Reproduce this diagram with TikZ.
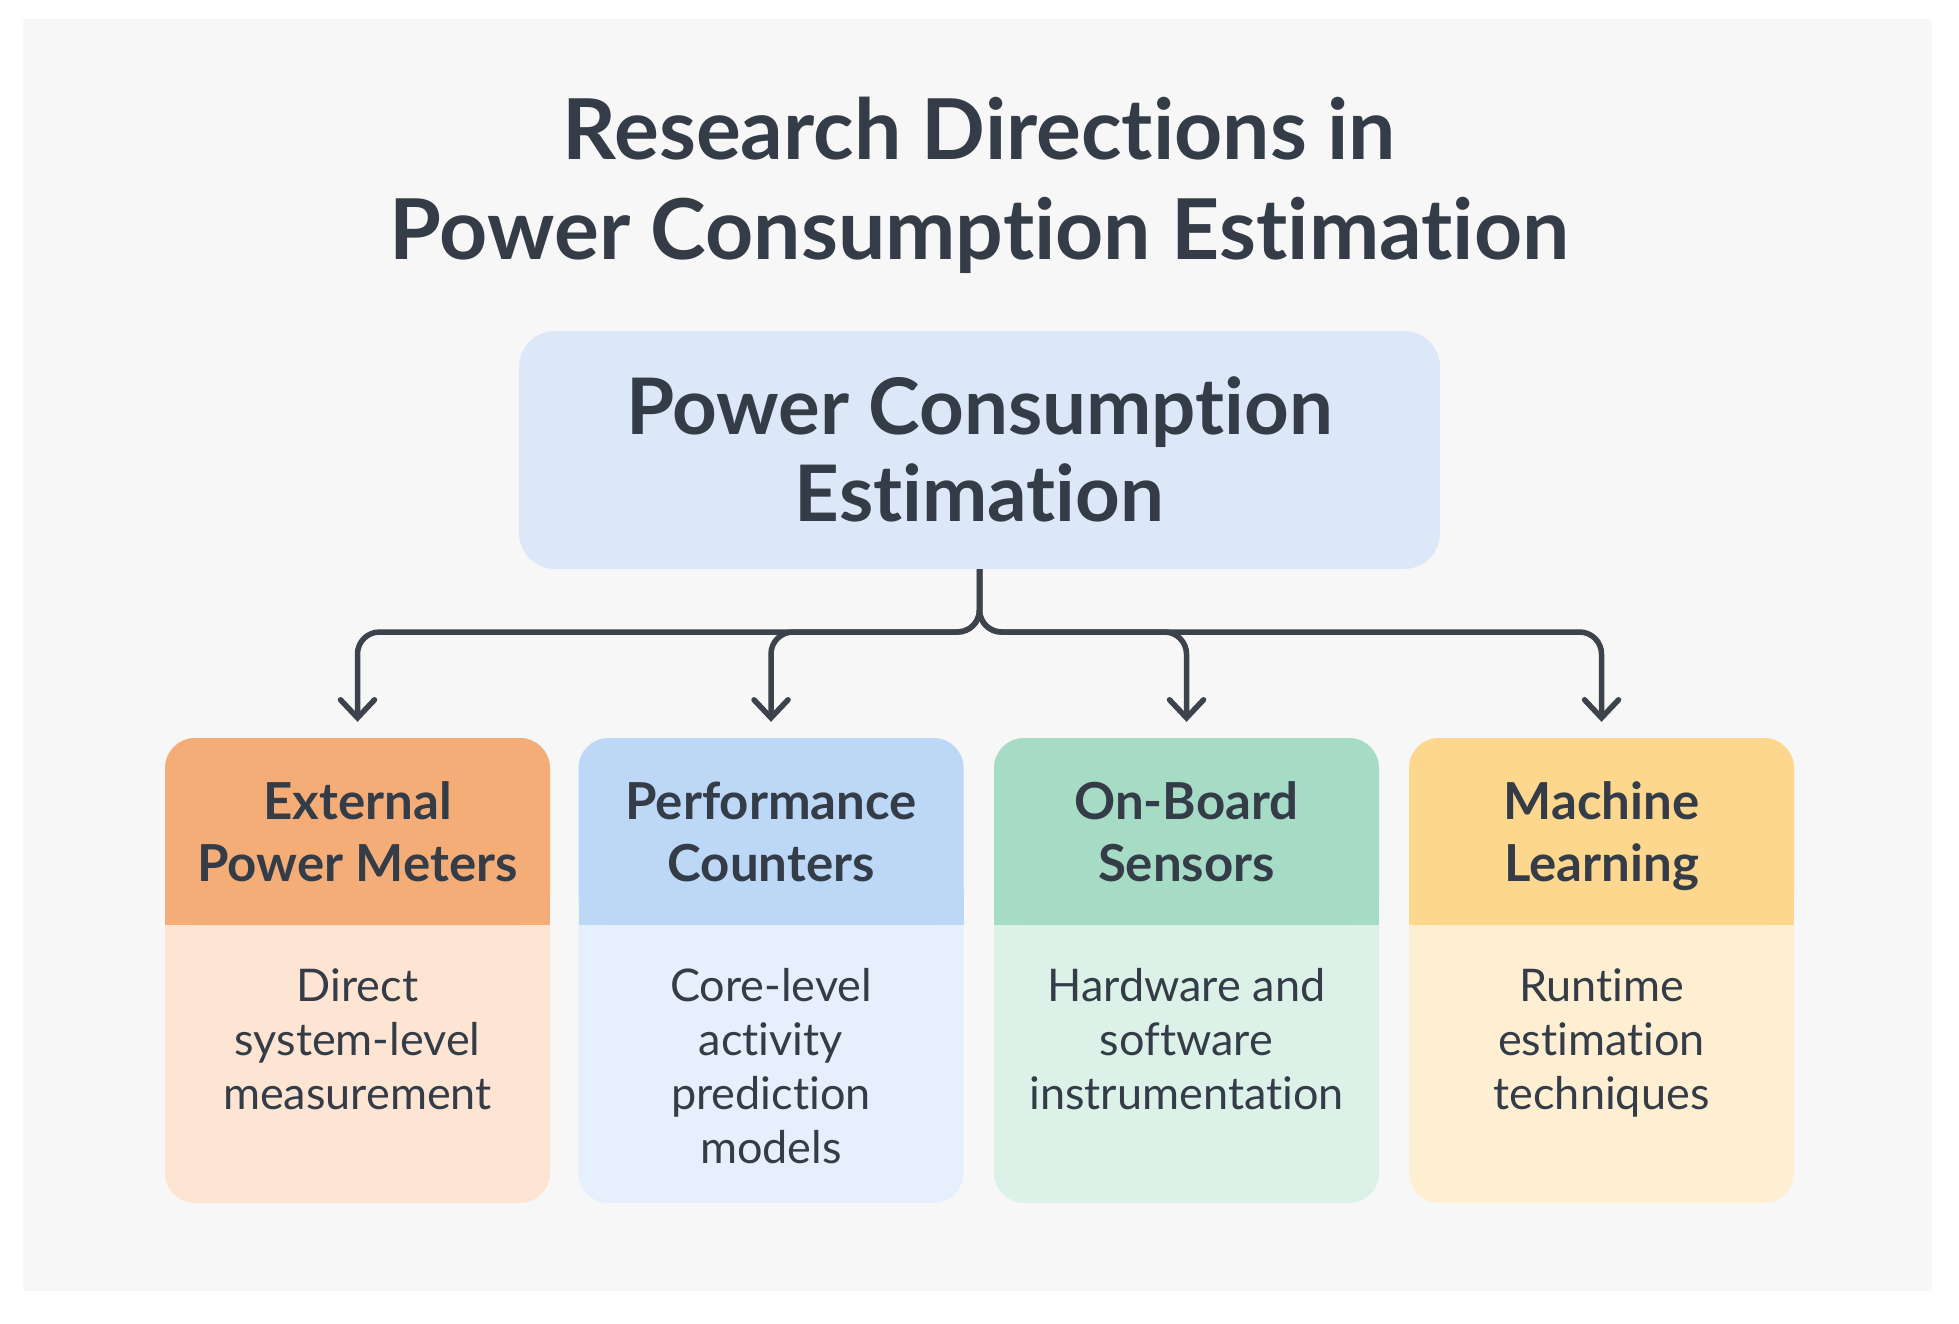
\documentclass[tikz,border=0pt]{standalone}
\usepackage{fontspec}
\setmainfont{Lato}[Ligatures=NoCommon]
\usetikzlibrary{arrows.meta}
\definecolor{panel}{HTML}{F7F7F7}
\definecolor{mainblue}{HTML}{DCE8F7}
\definecolor{ink}{HTML}{343C47}
\definecolor{linec}{HTML}{3D434C}
\definecolor{head1}{HTML}{F5AD78}
\definecolor{body1}{HTML}{FDE4D3}
\definecolor{head2}{HTML}{BDD7F6}
\definecolor{body2}{HTML}{E5F0FC}
\definecolor{head3}{HTML}{A6DCC6}
\definecolor{body3}{HTML}{DCF2E8}
\definecolor{head4}{HTML}{FDD78D}
\definecolor{body4}{HTML}{FFEFD2}
\begin{document}
\begin{tikzpicture}[x=1pt,y=-1pt,
  titletxt/.style={anchor=base, text=ink, inner sep=0, font=\fontsize{84}{100}\selectfont\bfseries},
  maintxt/.style={anchor=base, text=ink, inner sep=0, font=\fontsize{78}{90}\selectfont\bfseries},
  hdrtxt/.style={anchor=base, text=ink, inner sep=0, font=\fontsize{51}{62}\selectfont\bfseries},
  bodytxt/.style={anchor=base, text=ink, inner sep=0, font=\fontsize{45}{54}\selectfont},
  card/.style={inner sep=0, minimum width=385pt, minimum height=465pt, rounded corners=30pt},
  hdrbox/.style={inner sep=0, minimum width=385pt, minimum height=187pt},
  conn/.style={draw=linec, line width=5.5pt, rounded corners=22pt, shorten >=16pt,
    -{Straight Barb[length=18pt, width=34pt, line cap=round]}}
]
\useasboundingbox (0,0) rectangle (1959,1323);
\fill[white] (0,0) rectangle (1959,1323);
\fill[panel] (23,19) rectangle (1932,1291);

% title
\node[titletxt] (t1) at (979.5,159) {Research Directions in};
\node[titletxt] (t2) at (979.5,259) {Power Consumption Estimation};

% main box
\node[fill=mainblue, rounded corners=36pt, inner sep=0, minimum width=921pt, minimum height=238pt] (main) at (979.5,450) {};
\node[maintxt] (m1) at (979.5,434) {Power Consumption};
\node[maintxt] (m2) at (979.5,521) {Estimation};

% cards
\foreach \i/\cx in {1/357.5, 2/771, 3/1186.5, 4/1601.5} {
  \node[card, fill=body\i] (card\i) at (\cx,970.5) {};
  \fill[head\i, rounded corners=30pt] (\cx-192.5,738) rectangle (\cx+192.5,925);
  \fill[head\i] (\cx-192.5,890) rectangle (\cx+192.5,925);
  \node[hdrbox] (h\i) at (\cx,831.5) {};
}

% header texts
\node[hdrtxt] (h1a) at (357.5,819) {External};
\node[hdrtxt] (h1b) at (357.5,881) {Power Meters};
\node[hdrtxt] (h2a) at (771,819) {Performance};
\node[hdrtxt] (h2b) at (771,881) {Counters};
\node[hdrtxt] (h3a) at (1186.5,819) {On-Board};
\node[hdrtxt] (h3b) at (1186.5,881) {Sensors};
\node[hdrtxt] (h4a) at (1601.5,819) {Machine};
\node[hdrtxt] (h4b) at (1601.5,881) {Learning};

% body texts
\node[bodytxt] (b1a) at (357.5,1001) {Direct};
\node[bodytxt] (b1b) at (357.5,1055) {system-level};
\node[bodytxt] (b1c) at (357.5,1109) {measurement};
\node[bodytxt] (b2a) at (771,1001) {Core-level};
\node[bodytxt] (b2b) at (771,1055) {activity};
\node[bodytxt] (b2c) at (771,1109) {prediction};
\node[bodytxt] (b2d) at (771,1163) {models};
\node[bodytxt] (b3a) at (1186.5,1001) {Hardware and};
\node[bodytxt] (b3b) at (1186.5,1055) {software};
\node[bodytxt] (b3c) at (1186.5,1109) {instrumentation};
\node[bodytxt] (b4a) at (1601.5,1001) {Runtime};
\node[bodytxt] (b4b) at (1601.5,1055) {estimation};
\node[bodytxt] (b4c) at (1601.5,1109) {techniques};

% connectors
\coordinate (bus) at (979.5,632);
\foreach \n in {h1,h2,h3,h4}
  \draw[conn] (main.south) |- (\n.north |- bus) -- (\n.north);
\end{tikzpicture}
\end{document}
